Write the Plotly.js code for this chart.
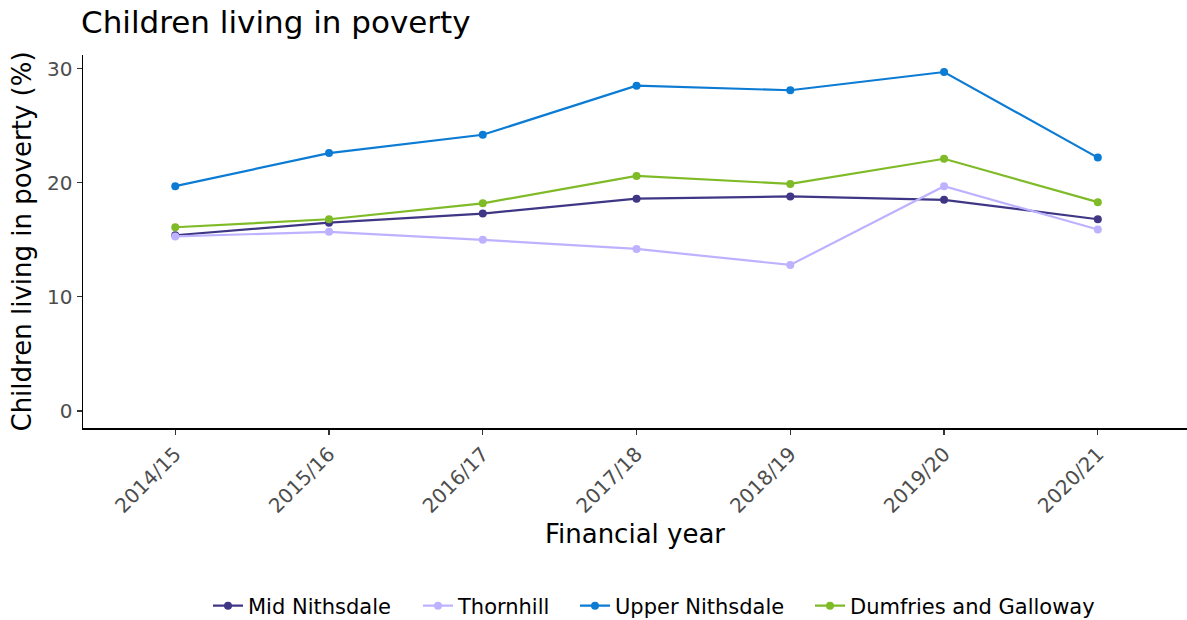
<!DOCTYPE html>
<html>
<head>
<meta charset="utf-8">
<script src="https://cdn.plot.ly/plotly-3.0.1.min.js"></script>
<style>html,body{margin:0;padding:0;background:#fff;}</style>
</head>
<body>
<div id="chart" style="width:1187px;height:620px;"></div>
<script>
const years = ["2014/15","2015/16","2016/17","2017/18","2018/19","2019/20","2020/21"];
const midNithsdale = [15.4, 16.5, 17.3, 18.6, 18.8, 18.5, 16.8];
const thornhill = [15.3, 15.7, 15.0, 14.2, 12.8, 19.7, 15.9];
const upperNithsdale = [19.7, 22.6, 24.2, 28.5, 28.1, 29.7, 22.2];
const dumfriesGalloway = [16.1, 16.8, 18.2, 20.6, 19.9, 22.1, 18.3];

const seriesNames = ["Mid Nithsdale","Thornhill","Upper Nithsdale","Dumfries and Galloway"];
const seriesValues = [midNithsdale, thornhill, upperNithsdale, dumfriesGalloway];
const seriesColors = ["#3f3685","#bdb2ff","#0b7bd4","#7fba27"];
const legendIds = ["legend","legend2","legend3","legend4"];
const legendTextStart = [248, 458, 615, 850];

const traces = seriesNames.map((n,i)=>({
  type:'scatter', mode:'lines+markers', name:n,
  x: years, y: seriesValues[i],
  line:{color:seriesColors[i], width:2.2},
  marker:{color:seriesColors[i], size:8},
  legend: legendIds[i]
}));

const font = "DejaVu Sans, sans-serif";
const layout = {
  width:1187, height:620,
  margin:{l:83, r:0, t:55, b:192},
  paper_bgcolor:'#fff', plot_bgcolor:'#fff',
  font:{family:font, color:'#000'},
  title:{text:"Children living in poverty", font:{size:31, color:'#000'}, x:81/1187, xanchor:'left', xref:'container', y:1-22/620, yanchor:'middle', yref:'container'},
  xaxis:{
    type:'category', range:[-0.6, 6.58], showgrid:false, zeroline:false,
    showline:true, linecolor:'#000', linewidth:1.5,
    ticks:'outside', ticklen:5, tickcolor:'#333', tickwidth:1.2,
    tickangle:-45, tickfont:{size:20, color:'#4d4d4d'},
    title:{text:"Financial year", font:{size:26, color:'#000'}, standoff:8}
  },
  yaxis:{
    range:[-1.485, 31.19], showgrid:false, zeroline:false,
    showline:true, linecolor:'#000', linewidth:1.5,
    ticks:'outside', ticklen:5, tickcolor:'#333', tickwidth:1.2,
    tickvals:[0,10,20,30], tickfont:{size:20, color:'#4d4d4d'},
    title:{text:"Children living in poverty (%)", font:{size:26, color:'#000'}, standoff:8}
  },
  showlegend:true,
  hovermode:false
};
legendIds.forEach((id,i)=>{
  layout[id] = {orientation:'h', x:(legendTextStart[i]-40)/1187, xanchor:'left', xref:'container',
    y:14/620, yanchor:'middle', yref:'container', font:{size:21, color:'#000'},
    itemwidth:30, bgcolor:'rgba(0,0,0,0)', borderwidth:0};
});
Plotly.newPlot('chart', traces, layout, {displayModeBar:false, staticPlot:true});
</script>
</body>
</html>
